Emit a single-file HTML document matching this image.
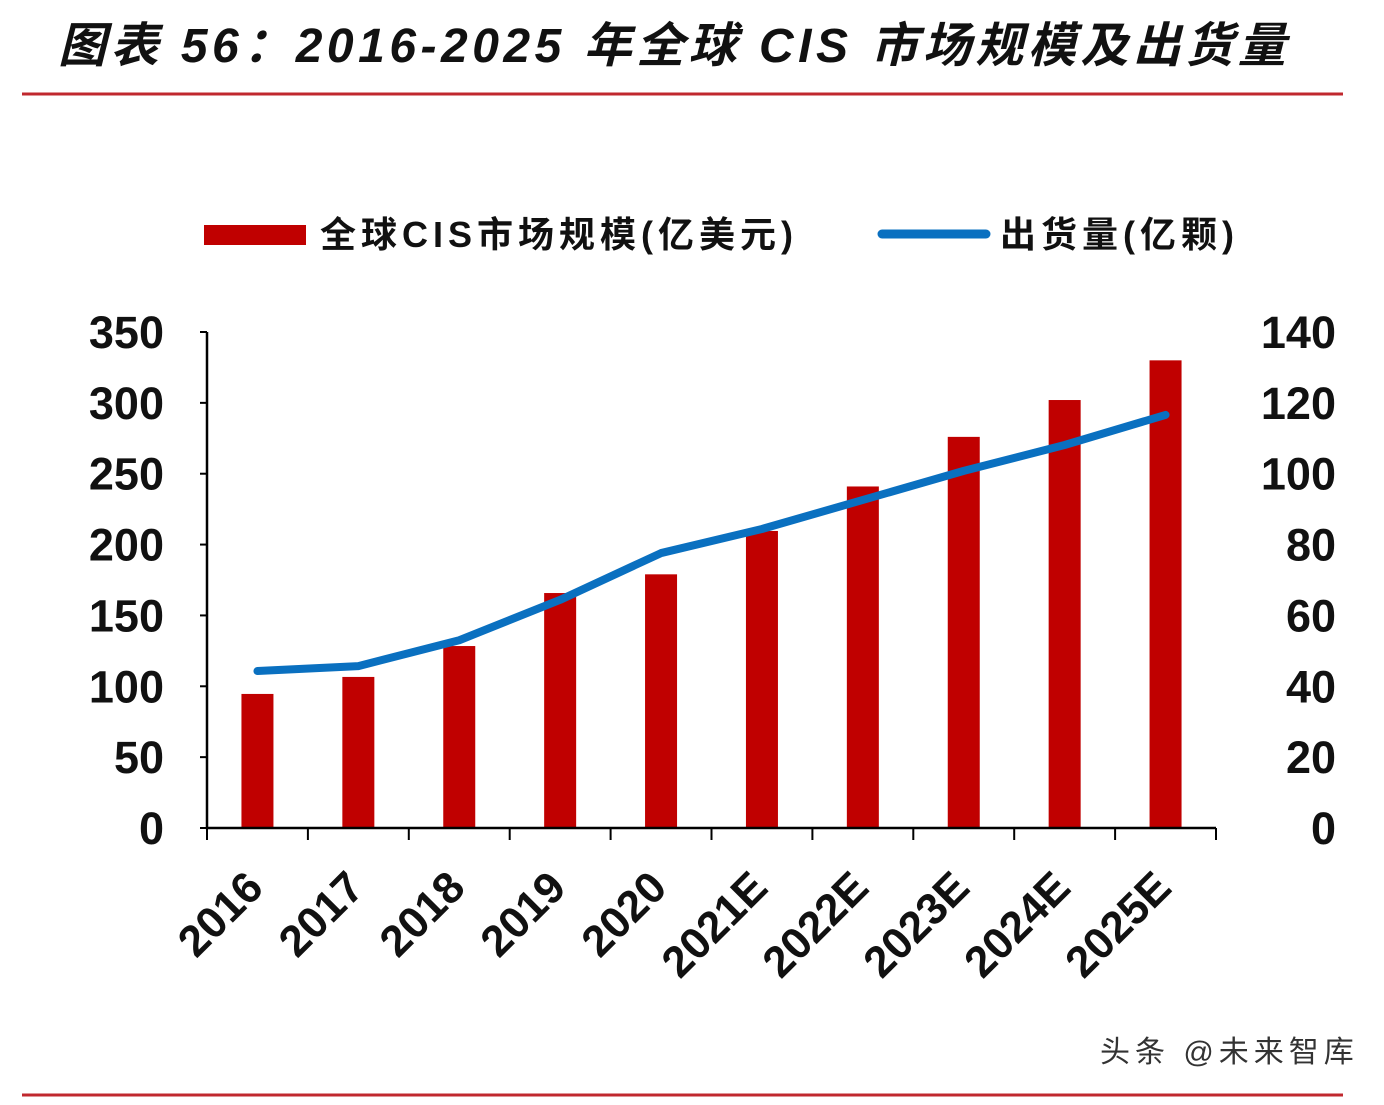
<!DOCTYPE html>
<html><head><meta charset="utf-8">
<style>
body{margin:0;background:#fff;width:1384px;height:1100px;overflow:hidden;font-family:"Liberation Sans","Noto Sans CJK SC",sans-serif;}
</style></head>
<body>
<svg width="1384" height="1100" xmlns="http://www.w3.org/2000/svg">
<text x="58" y="62" font-size="48" font-weight="bold" font-style="italic" letter-spacing="4.5" fill="#111" font-family="Liberation Sans, Noto Sans CJK SC, sans-serif">图表 56：2016-2025 年全球 CIS 市场规模及出货量</text>
<line x1="22" y1="94" x2="1343" y2="94" stroke="#c0282e" stroke-width="3"/>
<line x1="22" y1="1095" x2="1343" y2="1095" stroke="#c0282e" stroke-width="3"/>
<rect x="204" y="225" width="102" height="20" fill="#c00000"/>
<text x="320" y="247" font-size="36" font-weight="bold" letter-spacing="5" fill="#111">全球CIS市场规模(亿美元)</text>
<line x1="882" y1="234" x2="986" y2="234" stroke="#0a70c0" stroke-width="9" stroke-linecap="round"/>
<text x="1000" y="247" font-size="36" font-weight="bold" letter-spacing="5" fill="#111">出货量(亿颗)</text>
<g id="plot"></g>
<text x="1100" y="1062" font-size="30" letter-spacing="5" fill="#333">头条 @未来智库</text>
</svg>
<script>
const categories=["2016","2017","2018","2019","2020","2021E","2022E","2023E","2024E","2025E"];
const marketSize=[94.6,106.6,128.4,165.8,179,209.6,241,276,302,330];
const shipments=[44.3,45.7,53,64.4,77.6,84.4,92.6,100.8,108.1,116.6];
const leftTicks=[0,50,100,150,200,250,300,350];
const rightTicks=[0,20,40,60,80,100,120,140];
const NS="http://www.w3.org/2000/svg";
const g=document.getElementById('plot');
const x0=207,x1=1216,yb=828,yt=332;
const step=(x1-x0)/categories.length;
const xC=i=>x0+step*(i+0.5);
const yL=v=>yb-(v/350)*(yb-yt);
const yR=v=>yb-(v/140)*(yb-yt);
function mk(t,a){const e=document.createElementNS(NS,t);for(const k in a)e.setAttribute(k,a[k]);g.appendChild(e);return e;}
marketSize.forEach((v,i)=>{
 const r=mk('rect',{x:xC(i)-16,y:yL(v),width:32,height:yb-yL(v),fill:'#c00000'});
 
 
});
const ax=mk('path',{d:`M${x0} ${yt}V${yb}H${x1}`,stroke:'#000','stroke-width':2.5,fill:'none'});


leftTicks.forEach(v=>{
 const tk=mk('line',{x1:x0-7,x2:x0,y1:yL(v),y2:yL(v),stroke:'#000','stroke-width':2});
 
 
 const t=mk('text',{x:164,y:yL(v)+16,'font-size':45,'font-weight':'bold','text-anchor':'end',fill:'#111'});
 t.textContent=v;
 
 
});
rightTicks.forEach(v=>{
 const t=mk('text',{x:1336,y:yR(v)+16,'font-size':45,'font-weight':'bold','text-anchor':'end',fill:'#111'});
 t.textContent=v;
 
 
});
for(let i=0;i<=categories.length;i++){
 const tk=mk('line',{x1:x0+step*i,x2:x0+step*i,y1:yb,y2:yb+12,stroke:'#000','stroke-width':2});
 
 
}
categories.forEach((c,i)=>{
 const tx=xC(i)+8,ty=yb+62;
 const t=mk('text',{x:tx,y:ty,'font-size':44,'font-weight':'bold','text-anchor':'end',fill:'#111',transform:`rotate(-45 ${tx} ${ty})`});
 t.textContent=c;
 
 
});
const pts=shipments.map((v,i)=>xC(i)+','+yR(v)).join(' ');
const pl=mk('polyline',{points:pts,fill:'none',stroke:'#0a70c0','stroke-width':8,'stroke-linejoin':'round','stroke-linecap':'round'});


</script>
</body></html>
